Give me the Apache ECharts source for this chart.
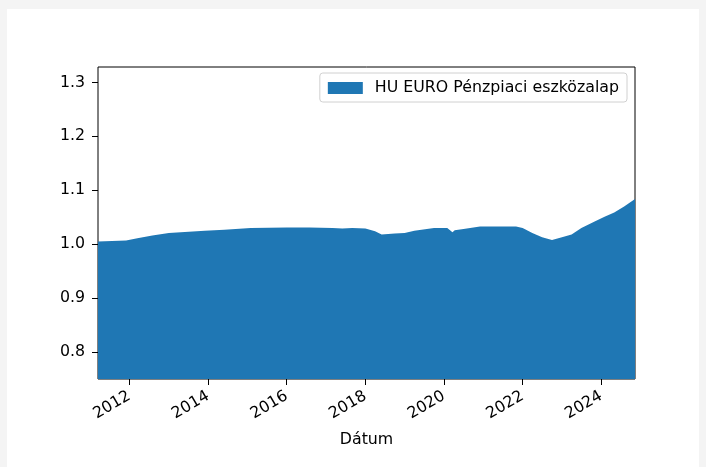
<!DOCTYPE html>
<html>
<head>
<meta charset="utf-8">
<script src="https://cdn.jsdelivr.net/npm/echarts@6/dist/echarts.min.js"></script>
<style>
  html, body { margin: 0; padding: 0; background: #f4f4f4; }
  #panel { position: absolute; left: 7px; top: 9px; width: 692px; height: 458px; background: #fff; }
  #main { position: absolute; left: 0; top: 0; width: 706px; height: 467px; }
</style>
</head>
<body>
<div id="panel"></div>
<div id="main"></div>
<script>
// árfolyam adatok
var dates = ['2011-03-15', '2011-12-01', '2012-03-15', '2012-08-01', '2013-01-01', '2013-12-01',
    '2014-06-01', '2015-02-01', '2016-01-01', '2016-08-01', '2017-03-01', '2017-06-01',
    '2017-09-01', '2018-01-01', '2018-04-01', '2018-06-01', '2018-10-01', '2019-01-01',
    '2019-04-01', '2019-10-01', '2020-02-01', '2020-03-20', '2020-04-10', '2020-07-01',
    '2020-12-01', '2021-06-01', '2021-11-01', '2022-01-01', '2022-04-01', '2022-07-01',
    '2022-10-01', '2023-01-01', '2023-04-01', '2023-07-01', '2023-11-01', '2024-02-01',
    '2024-05-01', '2024-08-01', '2024-11-10'];
var values = [1.005, 1.007, 1.011, 1.016, 1.021, 1.025,
    1.027, 1.030, 1.031, 1.031, 1.030, 1.029,
    1.030, 1.029, 1.024, 1.018, 1.020, 1.021,
    1.025, 1.030, 1.030, 1.022, 1.026, 1.028,
    1.033, 1.033, 1.033, 1.030, 1.021, 1.013,
    1.008, 1.013, 1.018, 1.030, 1.042, 1.051,
    1.059, 1.070, 1.084];
var xTickYears = [2012, 2014, 2016, 2018, 2020, 2022, 2024];
var yTicks = [0.8, 0.9, 1.0, 1.1, 1.2, 1.3];
var seriesName = 'HU EURO Pénzpiaci eszközalap';
var xStart = '2011-03-15', xEnd = '2024-11-10';

var font = 'DejaVu Sans';
var fs = 15.8;
function ms(d) { return new Date(d + 'T00:00:00Z').getTime(); }
var xTickValues = xTickYears.map(function (y) { return Date.UTC(y, 0, 1); });
var data = dates.map(function (d, i) { return [ms(d), values[i]]; });

var chart = echarts.init(document.getElementById('main'));
chart.setOption({
    animation: false,
    textStyle: { fontFamily: font },
    grid: {
        left: 98, right: 71, top: 67, bottom: 88,
        show: true, borderColor: '#000', borderWidth: 1, backgroundColor: 'transparent'
    },
    legend: {
        data: [seriesName],
        right: 79, top: 73,
        icon: 'rect', itemWidth: 35, itemHeight: 12, itemGap: 8,
        borderColor: '#d0d0d0', borderWidth: 1, borderRadius: 3,
        padding: [7, 8, 6, 8],
        backgroundColor: 'rgba(255,255,255,0.8)',
        textStyle: { fontFamily: font, fontSize: fs, color: '#000', padding: [0, 0, 0, 7] }
    },
    xAxis: {
        type: 'value',
        min: ms(xStart),
        max: ms(xEnd),
        name: 'Dátum',
        nameLocation: 'middle',
        nameGap: 53,
        nameTextStyle: { fontFamily: font, fontSize: fs, color: '#000' },
        axisLine: { show: false },
        splitLine: { show: false },
        axisTick: { show: true, length: 6, lineStyle: { color: '#000' }, customValues: xTickValues },
        axisLabel: {
            customValues: xTickValues,
            rotate: 30, margin: 16,
            fontFamily: font, fontSize: fs, color: '#000',
            formatter: function (v) { return String(new Date(v).getUTCFullYear()); }
        }
    },
    yAxis: {
        type: 'value',
        min: 0.75,
        max: 1.3287,
        axisLine: { show: false },
        splitLine: { show: false },
        axisTick: { show: true, length: 6, lineStyle: { color: '#000' }, customValues: yTicks },
        axisLabel: {
            customValues: yTicks,
            margin: 13,
            fontFamily: font, fontSize: fs, color: '#000',
            formatter: function (v) { return v.toFixed(1); }
        }
    },
    series: [{
        name: seriesName,
        type: 'line',
        data: data,
        showSymbol: false,
        color: '#1f77b4',
        lineStyle: { width: 0 },
        areaStyle: { color: '#1f77b4', opacity: 1, origin: 'start' }
    }]
});
</script>
</body>
</html>
